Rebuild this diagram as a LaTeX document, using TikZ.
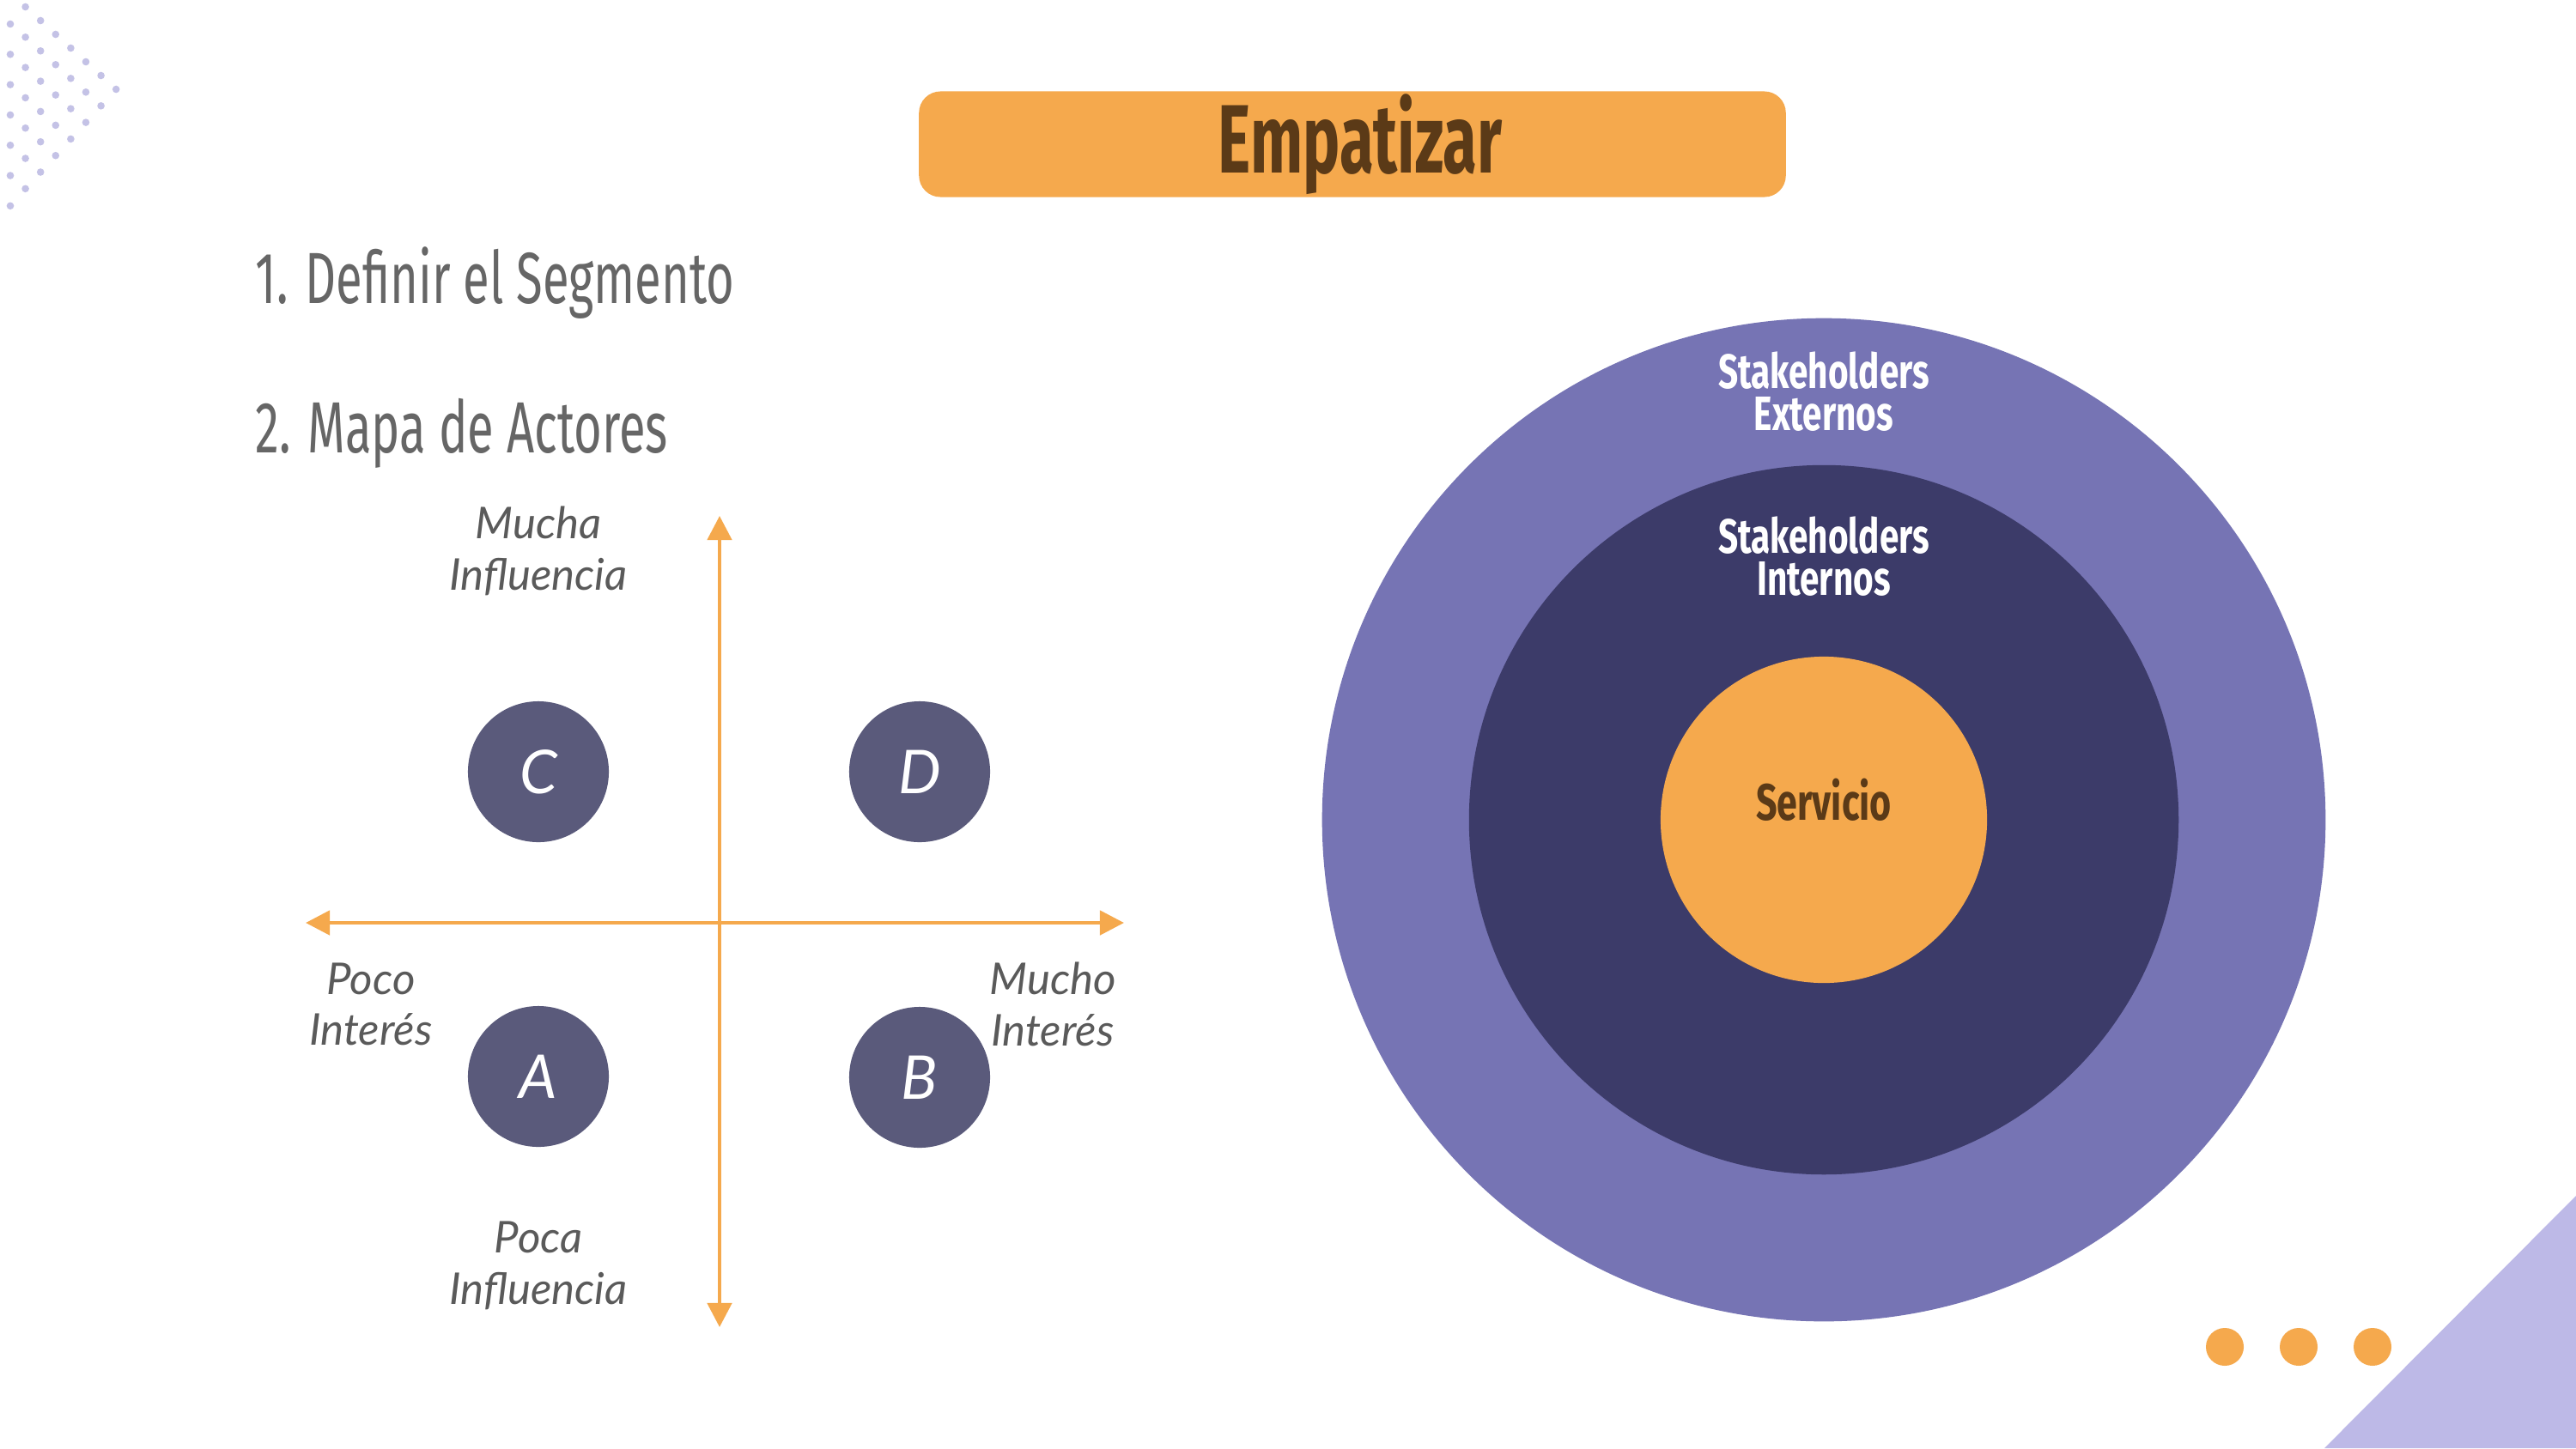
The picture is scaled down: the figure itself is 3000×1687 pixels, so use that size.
\documentclass[tikz,border=0pt]{standalone}
\usepackage{fontspec}
\setmainfont{Lato}
\newfontfamily\titlefont[FakeStretch=0.64]{Fira Sans}
\newfontfamily\ringfont[FakeStretch=0.72]{Fira Sans}
\newfontfamily\listfont[FakeStretch=0.665]{Fira Sans}
\usepackage{xcolor}
\usepackage{tikz}
\usetikzlibrary{arrows.meta,positioning}
\definecolor{boxorange}{HTML}{F5A94D}
\definecolor{darkbrown}{HTML}{5B3A17}
\definecolor{listgray}{HTML}{666666}
\definecolor{labelgray}{HTML}{5A5A5A}
\definecolor{actorfill}{HTML}{5A5A7B}
\definecolor{outerring}{HTML}{7674B4}
\definecolor{innerring}{HTML}{3C3B69}
\definecolor{cornerlav}{HTML}{BDB9E7}
\definecolor{dotlav}{HTML}{C4C2E6}
\tikzset{
    titlebox/.style={
        rectangle, rounded corners=0.25cm, fill=boxorange,
        minimum width=10.09cm, minimum height=1.23cm
    },
    titletext/.style={
        inner sep=0pt, text=darkbrown,
        font=\titlefont\bfseries\fontsize{32.2}{34}\selectfont
    },
    listitem/.style={
        anchor=base west, inner sep=0pt, text=listgray,
        font=\listfont\fontsize{24}{26}\selectfont
    },
    actor/.style={
        circle, fill=actorfill, minimum size=1.64cm, inner sep=0pt,
        text=white, font=\itshape\fontsize{20}{22}\selectfont
    },
    axislabel/.style={
        align=center, inner sep=0pt, text=labelgray,
        font=\itshape\fontsize{14.5}{17}\selectfont
    },
    axis/.style={<->,>={Triangle[length=8pt,width=8pt]},draw=boxorange,line width=1.3pt},
    ring/.style={circle, inner sep=0pt},
    ringlabel/.style={
        align=center, inner sep=0pt, text=white,
        font=\ringfont\bfseries\fontsize{16}{14}\selectfont
    }
}
\begin{document}
\begin{tikzpicture}[x=0.01cm, y=-0.01cm]

%% page frame: 3000 x 1687
\fill[white] (0,0) rectangle (3000,1687);
\useasboundingbox (0,0) rectangle (3000,1687);

%% decoration -- dot lattice top left, corner triangle, three dots
\foreach \col/\ys/\n in {0/28/7, 1/8/7, 2/24/6, 3/40/5, 4/56/4, 5/72/3, 6/88/2, 7/104/1}
    \foreach \k in {1,...,\n}
        \fill[dotlav] ({12+17.6*\col},{\ys+35.3*(\k-1)}) circle[radius=0.043cm];
\fill[cornerlav] (2707,1687) -- (3000,1393) -- (3000,1687) -- cycle;
\foreach \x in {2591,2677,2763}
    \fill[boxorange] (\x,1569) circle[radius=0.22cm];

%% title bar
\node[titlebox] (title) at (1575,168) {};
\node[titletext, anchor=base] (titlelbl) at (1584,201) {Empatizar};

%% steps
\node[listitem] (step1) at (297,353) {1. Definir el Segmento};
\node[listitem] (step2) at (297,527) {2. Mapa de Actores};

%% actor map -- axes cross at (838, 1075)
\coordinate (ytop) at (838,601);
\coordinate (ybot) at (838,1546);
\coordinate (xleft) at (356,1075);
\coordinate (xright) at (1309,1075);
\draw[axis] (ybot) -- (ytop);
\draw[axis] (xleft) -- (xright);

\node[actor] (actC) at (627,899) {C};
\node[actor] (actD) at (1071,899) {D};
\node[actor] (actA) at (627,1254) {A};
\node[actor] (actB) at (1071,1255) {B};

\node[axislabel] (hiinf) at (627,642) {Mucha\\Influencia};
\node[axislabel] (loinf) at (627,1474) {Poca\\Influencia};
\node[axislabel] (loint) at (432,1170) {Poco\\Interés};
\node[axislabel] (hiint) at (1226,1170) {Mucho\\Interés};

%% stakeholder rings -- centred at (2124, 955)
\node[ring, fill=outerring, minimum size=11.68cm] (extring) at (2124,955) {};
\node[ring, fill=innerring, minimum size=8.26cm] (intring) at (extring.center) {};
\node[ring, fill=boxorange, minimum size=3.8cm] (service) at (extring.center) {};

\node[ringlabel] (extlbl) at (2124,456) {Stakeholders\\Externos};
\node[ringlabel] (intlbl) at (2124,648) {Stakeholders\\Internos};
\node[ringlabel, text=darkbrown, font=\ringfont\bfseries\fontsize{17}{18}\selectfont]
    (servlbl) at (2124,932) {Servicio};

\end{tikzpicture}
\end{document}
